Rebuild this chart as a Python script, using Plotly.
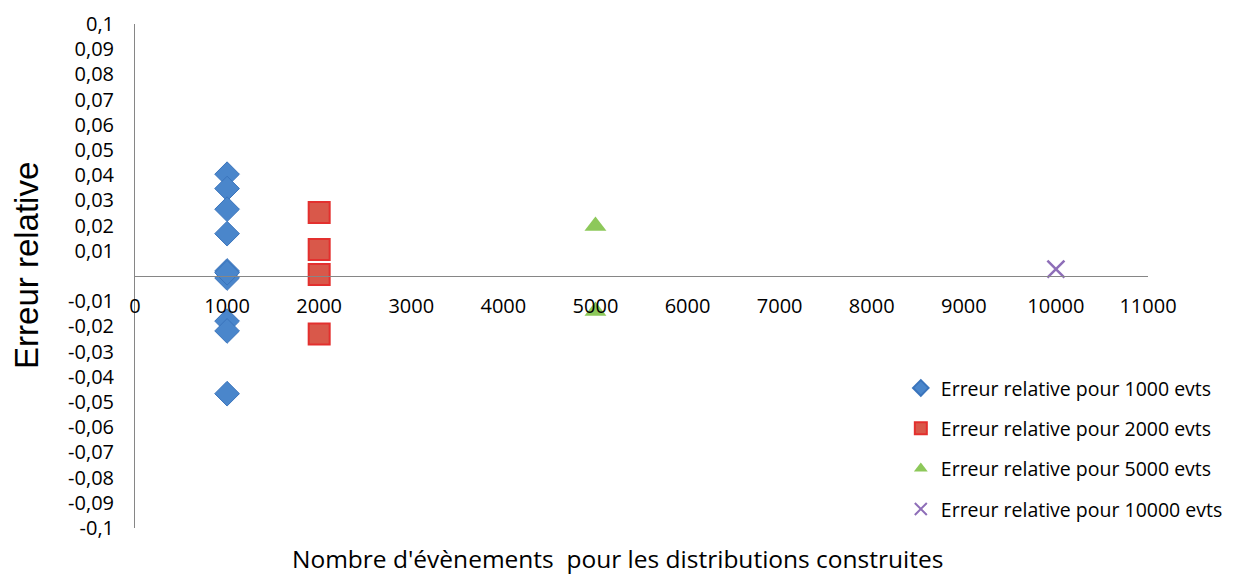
import plotly.graph_objects as go

# Data
x_1000 = [1000] * 10
err_1000 = [0.0404, 0.0347, 0.0265, 0.0168, 0.0020, -0.0008, -0.0179, -0.0218, -0.0467, 0.0013]
x_2000 = [2000] * 4
err_2000 = [0.0252, 0.0105, 0.0006, -0.0230]
x_5000 = [5000] * 2
err_5000 = [0.0198, -0.0139]
x_10000 = [10000]
err_10000 = [0.0027]

series_names = [
    "Erreur relative pour 1000 evts",
    "Erreur relative pour 2000 evts",
    "Erreur relative pour 5000 evts",
    "Erreur relative pour 10000 evts",
]

x_ticks = list(range(0, 12000, 1000))
x_ticktext = [str(v) for v in x_ticks]
y_ticks = [round(v * 0.01, 2) for v in range(-10, 11) if v != 0]
y_ticktext = [("%g" % v).replace(".", ",") for v in y_ticks]

font = "'Open Sans', Lato, sans-serif"
axis_grey = "#868686"

fig = go.Figure()
fig.add_trace(go.Scatter(x=x_1000, y=err_1000, mode="markers", name=series_names[0],
                         legendgroup="a",
                         marker=dict(symbol="diamond", size=19, color="#4A86CB",
                                     line=dict(color="#3A74BC", width=1))))
fig.add_trace(go.Scatter(x=x_2000, y=err_2000, mode="markers", name=series_names[1],
                         legendgroup="b",
                         marker=dict(symbol="square", size=21, color="#D9584A",
                                     line=dict(color="#E3302E", width=2))))
fig.add_trace(go.Scatter(x=x_5000, y=err_5000, mode="markers", name=series_names[2],
                         legendgroup="c",
                         marker=dict(symbol="triangle-up", size=19, color="#8DC85A",
                                     line=dict(width=0))))
fig.add_trace(go.Scatter(x=x_10000, y=err_10000, mode="markers", name=series_names[3],
                         legendgroup="d",
                         marker=dict(symbol="x-thin", size=17, color="#8E6EB8",
                                     line=dict(color="#8E6EB8", width=2.5))))

# the page body has an 8px margin, so the figure is a little smaller than the window
fig.update_layout(
    width=1226, height=567,
    margin=dict(l=127, r=86, t=16, b=47, autoexpand=False),
    paper_bgcolor="white", plot_bgcolor="white",
    font=dict(family=font, size=20, color="black"),
    xaxis=dict(range=[0, 11000], tickvals=x_ticks, ticktext=x_ticktext,
               showgrid=False, zeroline=False, automargin=False,
               showline=True, linecolor=axis_grey, linewidth=1,
               anchor="free", position=0.5, ticks="", ticklabelstandoff=12,
               tickfont=dict(family=font, size=20, color="black")),
    yaxis=dict(range=[-0.1, 0.1], tickvals=y_ticks, ticktext=y_ticktext,
               showgrid=False, zeroline=False, showline=True, linecolor=axis_grey,
               linewidth=1, ticks="", ticklabelstandoff=16, automargin=False,
               tickfont=dict(family=font, size=20, color="black")),
    legend=dict(x=0.756, y=0.316, xanchor="left", yanchor="top",
                font=dict(family=font, size=19.5, color="black"),
                itemsizing="constant", tracegroupgap=12, bgcolor="rgba(0,0,0,0)"),
    showlegend=True,
)

fig.add_annotation(text="Erreur relative", xref="paper", yref="paper",
                   x=-0.1066, y=0.52, textangle=-90, showarrow=False,
                   xanchor="center", yanchor="middle",
                   font=dict(family="'Liberation Sans', Arial, sans-serif", size=33, color="black"))
fig.add_annotation(text="Nombre d'évènements  pour les distributions construites",
                   xref="paper", yref="paper", x=0.476, y=-0.06, yanchor="middle",
                   showarrow=False,
                   font=dict(family=font, size=24.5, color="black"))

fig.write_html("out.html")
